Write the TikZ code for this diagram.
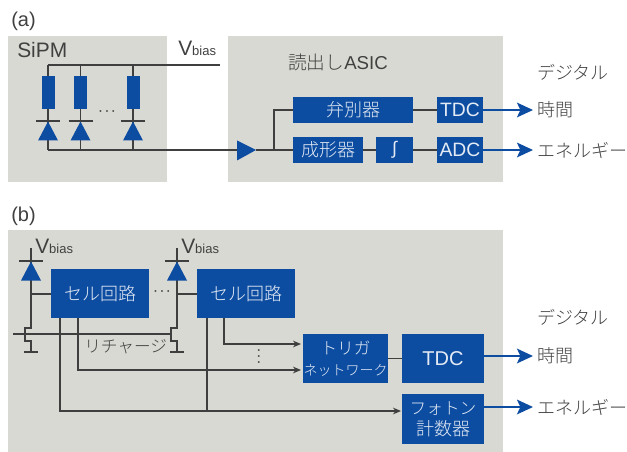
\documentclass[tikz,border=0pt]{standalone}
\usepackage{fontspec}
\setmainfont{Liberation Sans}
\newfontfamily\cjk{Noto Sans CJK JP Light}
\usetikzlibrary{arrows.meta,positioning}

\definecolor{panelgray}{HTML}{D9D9D3}
\definecolor{boxblue}{HTML}{0D4DA1}
\definecolor{linegray}{HTML}{3F3F3F}
\definecolor{txtgray}{HTML}{404040}
\definecolor{boxtxt}{HTML}{E4EBF5}

\begin{document}
\begin{tikzpicture}[
  x=0.75pt, y=-0.75pt,
  font=\fontsize{13.5pt}{16pt}\selectfont\color{txtgray},
  panel/.style={fill=panelgray, draw=none},
  bx/.style={fill=boxblue, inner sep=0pt, align=center, text=boxtxt},
  lab/.style={anchor=west, inner sep=0pt, align=left},
  ln/.style={draw=linegray, line width=0.85pt},
  sa/.style={ln, -{Stealth[length=6pt, width=5pt]}},
  outa/.style={draw=boxblue, line width=1.5pt, shorten >=3pt, -{Stealth[length=12pt, width=11pt, inset=2.5pt]}},
  bar/.style={draw=linegray, line width=0.85pt},
  dio/.style={fill=boxblue},
  dts/.style={inner sep=0pt, font=\fontsize{9pt}{11pt}\selectfont\boldmath\color{txtgray}},
]
\useasboundingbox (0,0) rectangle (627,452);
% panels
\fill[panel] (8,36) rectangle (167,182);
\fill[panel] (228,36) rectangle (503,182);
\fill[panel] (8,230) rectangle (503,452);

% (a) text
\node[lab] (capa) at (11,21) {\fontsize{15pt}{18pt}\selectfont (a)};
\node[lab] (sipm) at (17,50) {\fontsize{15.7pt}{18pt}\selectfont SiPM};
\node[lab] (vba) at (178,48) {\fontsize{15.7pt}{18pt}\selectfont V\fontsize{9.75pt}{12pt}\selectfont bias};
\node[lab] (asic) at (288,62) {\fontsize{14pt}{16pt}\selectfont{\cjk 読出し}ASIC};
\node[lab] (diga) at (537,72) {\cjk デジタル};
\node[lab] (timea) at (537,110) {\cjk 時間};
\node[lab] (enga) at (537,150) {\cjk エネルギー};

% (a) blocks
\node[bx, minimum width=90pt, minimum height=19.5pt] (disc) at (353,110) {\cjk 弁別器};
\node[bx, minimum width=34.5pt, minimum height=19.5pt] (tdca) at (460,110) {\fontsize{14.5pt}{16pt}\selectfont TDC};
\node[bx, minimum width=52.5pt, minimum height=19.5pt] (shaper) at (328,150) {\cjk 成形器};
\node[bx, minimum width=27.75pt, minimum height=19.5pt] (intg) at (394.5,150) {∫};
\node[bx, minimum width=34.5pt, minimum height=19.5pt] (adc) at (460,150) {\fontsize{14.5pt}{16pt}\selectfont ADC};

% (a) SiPM columns
\coordinate (railt) at (48,65);
\coordinate (railte) at (220,65);
\coordinate (railb) at (48,150);
\coordinate (ampin) at (237,150);
\coordinate (ampout) at (256,150);
\coordinate (branch) at (274,150);
\draw[ln] (railt) -- (railte);
\draw[ln] (railb) -- (ampin);
\foreach \x/\n in {48/p,80.5/q,133/r}{
  \draw[ln] (\x,65) -- (\x,150);
  \node[bx, minimum width=9.75pt, minimum height=24.75pt] (res\n) at (\x,92.5) {};
  \fill[dio] (\x,121.5) -- (\x+10,140.5) -- (\x-10,140.5) -- cycle;
  \draw[bar] (\x-12,121) -- (\x+12,121);
}
\node[dts] (dotsa) at (107,112) {$\cdots$};
\fill[dio] (ampin |- 0,140.5) -- (ampout) -- (ampin |- 0,160.5) -- cycle;

% (a) connectors
\draw[ln] (ampout) -- (shaper);
\draw[ln] (branch) |- (disc);
\draw[ln] (disc) -- (tdca);
\draw[ln] (shaper) -- (intg);
\draw[ln] (intg) -- (adc);
\draw[outa] (tdca) -- (timea);
\draw[outa] (adc) -- (enga);

% (b) text
\node[lab] (capb) at (11,216) {\fontsize{15pt}{18pt}\selectfont (b)};
\node[lab] (digb) at (537,317) {\cjk デジタル};
\node[lab] (timeb) at (537,356) {\cjk 時間};
\node[lab] (engb) at (537,407) {\cjk エネルギー};
\node[lab] (rech) at (84,347) {\cjk\fontsize{12.5pt}{15pt}\selectfont リチャージ};
\node[lab] (vbb) at (35,246) {\fontsize{15.7pt}{18pt}\selectfont V\fontsize{9.75pt}{12pt}\selectfont bias};
\node[lab] (vbc) at (181,246) {\fontsize{15.7pt}{18pt}\selectfont V\fontsize{9.75pt}{12pt}\selectfont bias};

% (b) cell stacks
\foreach \x in {31,177}{
  \draw[ln] (\x,248) -- (\x,328) -- (\x-6,328) -- (\x-6,341) -- (\x,341) -- (\x,352);
  \draw[bar] (\x-7,352) -- (\x+7,352);
  \fill[dio] (\x,261.5) -- (\x+10,280.5) -- (\x-10,280.5) -- cycle;
  \draw[bar] (\x-12,261) -- (\x+12,261);
}
\coordinate (tapa) at (31,294);
\coordinate (tapb) at (177,294);
\coordinate (gatea) at (13,334);
\coordinate (gateb) at (171,334);
\draw[ln] (gatea) -- (gateb);

% (b) blocks
\node[bx, minimum width=73.5pt, minimum height=36.75pt] (cella) at (100,293.5) {\cjk セル回路};
\node[bx, minimum width=73.5pt, minimum height=36.75pt] (cellb) at (246,293.5) {\cjk セル回路};
\node[bx, minimum width=63.75pt, minimum height=36.75pt] (trig) at (345.5,358.5)
  {\cjk\fontsize{12.5pt}{15pt}\selectfont トリガ\\\cjk\fontsize{10.5pt}{14pt}\selectfont ネットワーク};
\node[bx, minimum width=61.5pt, minimum height=36.75pt] (tdcb) at (443,358.5) {\fontsize{15pt}{18pt}\selectfont TDC};
\node[bx, minimum width=61.5pt, minimum height=37.5pt] (phot) at (443,419)
  {\cjk\fontsize{12.5pt}{16pt}\selectfont フォトン\\\cjk\fontsize{13.5pt}{16.5pt}\selectfont 計数器};

% (b) connectors
\coordinate (ca) at (60,318);
\coordinate (cb) at (78,318);
\coordinate (cc) at (207,318);
\coordinate (cd) at (224,318);
\coordinate (ja) at (60,411);
\coordinate (jb) at (207,411);
\coordinate (ea) at (301,344);
\coordinate (eb) at (301,370);
\coordinate (ec) at (401,411);
\draw[ln] (tapa) -- (tapa -| cella.west);
\draw[ln] (tapb) -- (tapb -| cellb.west);
\draw[sa] (cd) |- (ea);
\draw[sa] (cb) |- (eb);
\draw[ln] (cc) -- (jb);
\draw[sa] (ca) -- (ja) -- (ec);
\draw[ln] (trig) -- (tdcb);
\draw[outa] (tdcb.east |- timeb) -- (timeb);
\draw[outa] (phot.east |- engb) -- (engb);
\node[dts] (dotsb) at (162,292) {$\cdots$};
\node[dts, rotate=90] (dotsc) at (259,356.5) {$\cdots$};
\end{tikzpicture}
\end{document}
